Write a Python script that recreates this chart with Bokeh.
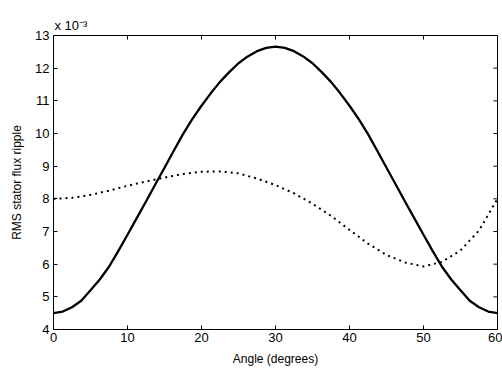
from bokeh.plotting import figure
from bokeh.models import FixedTicker, Range1d
from bokeh.embed import file_html
from bokeh.resources import INLINE

angle_solid = [0, 1.25, 2.5, 3.75, 5, 6.25, 7.5, 8.75, 10, 11.25, 12.5, 13.75, 15,
               16.25, 17.5, 18.75, 20, 21.25, 22.5, 23.75, 25, 26.25, 27.5, 28.75, 30,
               31.25, 32.5, 33.75, 35, 36.25, 37.5, 38.75, 40, 41.25, 42.5, 43.75, 45,
               46.25, 47.5, 48.75, 50, 51.25, 52.5, 53.75, 55, 56.25, 57.5, 58.75, 60]
ripple_solid = [4.50, 4.55, 4.68, 4.88, 5.20, 5.53, 5.92, 6.40, 6.90, 7.41, 7.92, 8.44, 8.95,
                9.47, 9.98, 10.44, 10.85, 11.23, 11.58, 11.88, 12.15, 12.36, 12.52, 12.62, 12.66,
                12.62, 12.52, 12.36, 12.15, 11.88, 11.58, 11.23, 10.85, 10.44, 9.98, 9.47, 8.95,
                8.44, 7.92, 7.41, 6.90, 6.40, 5.92, 5.53, 5.20, 4.88, 4.68, 4.55, 4.50]
angle_dotted = [0, 2.5, 5, 7.5, 10, 12.5, 15, 17.5, 20, 22.5, 25, 27.5, 30,
                32.5, 35, 37.5, 40, 42.5, 45, 47.5, 50, 52.5, 55, 57.5, 60]
ripple_dotted = [8.00, 8.03, 8.12, 8.25, 8.40, 8.53, 8.65, 8.76, 8.83, 8.84, 8.78, 8.62, 8.42,
                 8.17, 7.85, 7.48, 7.05, 6.63, 6.28, 6.05, 5.93, 6.07, 6.42, 7.03, 8.00]
x_ticks = [0, 10, 20, 30, 40, 50, 60]
y_ticks = [4, 5, 6, 7, 8, 9, 10, 11, 12, 13]

FONT = "Liberation Sans"
W, H = 502, 370
ML, MR, MT, MB = 53, 5, 35, 41
X0, X1, Y0, Y1 = 0, 60, 4, 13

p = figure(width=W, height=H, output_backend="svg", toolbar_location=None,
           x_range=Range1d(X0, X1), y_range=Range1d(Y0, Y1))
p.min_border_left = ML
p.min_border_right = MR
p.min_border_top = MT
p.min_border_bottom = MB
p.grid.visible = False
p.outline_line_color = "black"
p.outline_line_width = 1
p.background_fill_color = "white"
p.border_fill_color = "white"

p.title.text = "x 10\u207b\u00b3"
p.title.align = "left"
p.title.text_font = FONT
p.title.text_font_size = "13px"
p.title.text_font_style = "normal"
p.title.text_color = "black"
p.title.offset = 1
p.title.standoff = 5

p.line(angle_solid, ripple_solid, line_color="black", line_width=2.3)
p.line(angle_dotted, ripple_dotted, line_color="black", line_width=2, line_dash="2 4")

# inward ticks on the top and right edges of the box
tick_px = 4
frame_w = W - ML - MR
frame_h = H - MT - MB
dx = tick_px * (X1 - X0) / frame_w
dy = tick_px * (Y1 - Y0) / frame_h
p.segment(x0=x_ticks, y0=[Y1] * len(x_ticks), x1=x_ticks, y1=[Y1 - dy] * len(x_ticks),
          line_color="black", line_width=1)
p.segment(x0=[X1] * len(y_ticks), y0=y_ticks, x1=[X1 - dx] * len(y_ticks), y1=y_ticks,
          line_color="black", line_width=1)

for ax in p.xaxis + p.yaxis:
    ax.major_tick_in = 4
    ax.major_tick_out = 0
    ax.minor_tick_line_color = None
    ax.axis_line_color = "black"
    ax.major_tick_line_color = "black"
    ax.major_label_text_font = FONT
    ax.major_label_text_font_size = "13px"
    ax.major_label_text_color = "black"
    ax.axis_label_text_font = FONT
    ax.axis_label_text_font_size = "12px"
    ax.axis_label_text_font_style = "normal"
    ax.axis_label_text_color = "black"

p.xaxis.ticker = FixedTicker(ticks=x_ticks)
p.yaxis.ticker = FixedTicker(ticks=y_ticks)
p.xaxis.axis_label = "Angle (degrees)"
p.yaxis.axis_label = "RMS stator flux ripple"
p.xaxis.major_label_standoff = 3
p.yaxis.major_label_standoff = 4
p.xaxis.axis_label_standoff = 7
p.yaxis.axis_label_standoff = 8

open("out.html", "w").write(file_html(p, INLINE))
